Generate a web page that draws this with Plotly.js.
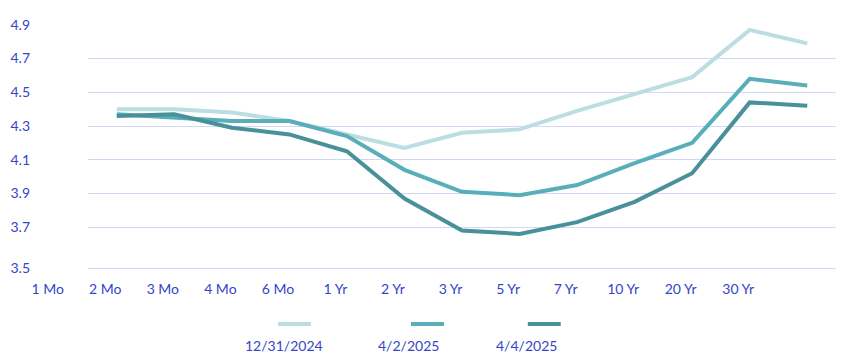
<!DOCTYPE html>
<html>
<head>
<meta charset="utf-8">
<script src="https://cdn.plot.ly/plotly-3.0.1.min.js"></script>
<style>html,body{margin:0;padding:0;background:#fff;}#chart{width:846px;height:361px;}</style>
</head>
<body>
<div id="chart"></div>
<script>
const categories = ["1 Mo","2 Mo","3 Mo","4 Mo","6 Mo","1 Yr","2 Yr","3 Yr","5 Yr","7 Yr","10 Yr","20 Yr","30 Yr"];
const seriesNames = ["12/31/2024","4/2/2025","4/4/2025"];
const yields_12_31_2024 = [4.40, 4.40, 4.38, 4.33, 4.25, 4.17, 4.26, 4.28, 4.39, 4.49, 4.59, 4.87, 4.79];
const yields_4_2_2025   = [4.37, 4.35, 4.33, 4.33, 4.24, 4.04, 3.91, 3.89, 3.95, 4.08, 4.20, 4.58, 4.54];
const yields_4_4_2025   = [4.36, 4.37, 4.29, 4.25, 4.15, 3.87, 3.68, 3.66, 3.73, 3.85, 4.02, 4.44, 4.42];
const yTickVals = [3.457, 3.7, 3.9, 4.1, 4.3, 4.5, 4.7, 4.9];
const yTickText = ["3.5","3.7","3.9","4.1","4.3","4.5","4.7","4.9"];

const colors = ["#BCDDE1", "#58AFBA", "#48909A"];
const allSeries = [yields_12_31_2024, yields_4_2_2025, yields_4_4_2025];
const labelColor = "#3445C8";
const fontFam = "Lato, 'Open Sans', sans-serif";

const traces = allSeries.map((ys, i) => ({
  type: "scatter", mode: "lines", x: categories, y: ys, name: seriesNames[i],
  line: {color: colors[i], width: 4}, showlegend: false, hoverinfo: "skip"
}));

// manual legend (sample line above, label below-left)
const H = 361 - 24 - 90;
const py = p => 1 - (p - 24) / H;
const legLines = [[0.254, 0.298], [0.4318, 0.476], [0.588, 0.632]];
const legText = [0.262, 0.429, 0.586];
const shapes = legLines.map((p, i) => ({
  type: "line", xref: "paper", yref: "paper", x0: p[0], x1: p[1], y0: py(324), y1: py(324),
  line: {color: colors[i], width: 4}
}));
const annotations = seriesNames.map((n, i) => ({
  xref: "paper", yref: "paper", x: legText[i], y: py(345), text: n, showarrow: false,
  xanchor: "center", yanchor: "middle", font: {family: fontFam, size: 14, color: labelColor}
}));

const layout = {
  width: 846, height: 361,
  margin: {l: 88, r: 10, t: 24, b: 90},
  paper_bgcolor: "#fff", plot_bgcolor: "#fff",
  font: {family: fontFam, size: 14, color: labelColor},
  xaxis: {
    type: "category", range: [-0.5, 12.5], showgrid: false, zeroline: false, showline: false,
    ticks: "", ticklabelshift: -69, ticklabelstandoff: 8,
    tickfont: {family: fontFam, size: 14, color: labelColor}
  },
  yaxis: {
    range: [3.44, 4.905], tickvals: yTickVals, ticktext: yTickText,
    showgrid: true, gridcolor: "#D3D7F4", gridwidth: 1, zeroline: false, showline: false,
    ticks: "", ticklabelstandoff: 57,
    tickfont: {family: fontFam, size: 14, color: labelColor}
  },
  shapes: shapes, annotations: annotations, showlegend: false
};
Plotly.newPlot("chart", traces, layout, {staticPlot: true, displayModeBar: false});
</script>
</body>
</html>
